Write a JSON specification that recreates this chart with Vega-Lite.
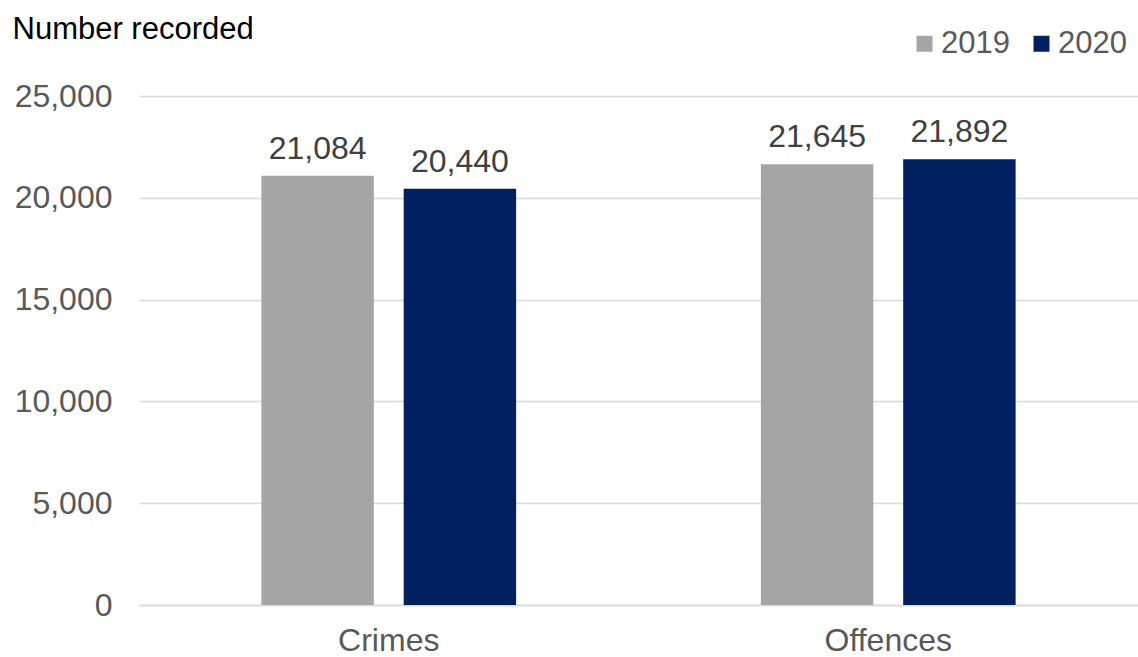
{
  "$schema": "https://vega.github.io/schema/vega-lite/v6.json",
  "autosize": "none",
  "width": 999,
  "height": 509,
  "padding": {"left": 139, "top": 96, "right": 0, "bottom": 52},
  "background": "white",
  "config": {
    "font": "Liberation Sans",
    "view": {"stroke": null}
  },
  "data": {
    "values": [
      {"category": "Crimes", "year": "2019", "value": 21084},
      {"category": "Crimes", "year": "2020", "value": 20440},
      {"category": "Offences", "year": "2019", "value": 21645},
      {"category": "Offences", "year": "2020", "value": 21892}
    ]
  },
  "encoding": {
    "x": {
      "field": "category",
      "type": "nominal",
      "scale": {"paddingInner": 0.49, "paddingOuter": 0.245},
      "axis": {
        "title": null,
        "labelAngle": 0,
        "labelFontSize": 32,
        "labelColor": "#595959",
        "labelPadding": 20,
        "ticks": false,
        "domain": true,
        "domainColor": "#d9d9d9",
        "domainWidth": 1.5
      }
    },
    "xOffset": {
      "field": "year",
      "type": "nominal",
      "scale": {"paddingInner": 0.21, "paddingOuter": 0}
    },
    "y": {
      "field": "value",
      "type": "quantitative",
      "scale": {"domain": [0, 25000]},
      "axis": {
        "title": "Number recorded",
        "titleAngle": 0,
        "titleAlign": "left",
        "titleBaseline": "alphabetic",
        "titleX": -127,
        "titleY": -58,
        "titleFontSize": 31,
        "titleFontWeight": "normal",
        "titleColor": "#000000",
        "values": [0, 5000, 10000, 15000, 20000, 25000],
        "format": ",d",
        "labelFontSize": 32,
        "labelColor": "#595959",
        "labelPadding": 27,
        "ticks": false,
        "domain": false,
        "gridColor": "#d9d9d9",
        "gridWidth": 1.5
      }
    }
  },
  "layer": [
    {
      "mark": {"type": "bar"},
      "encoding": {
        "color": {
          "field": "year",
          "type": "nominal",
          "scale": {"domain": ["2019", "2020"], "range": ["#a5a5a5", "#002060"]},
          "legend": {
            "title": null,
            "orient": "none",
            "direction": "horizontal",
            "legendX": 770,
            "legendY": -68,
            "padding": 0,
            "symbolType": "square",
            "symbolSize": 256,
            "symbolStrokeWidth": 0,
            "symbolOpacity": 1,
            "labelFontSize": 31,
            "labelColor": "#595959",
            "labelOffset": 1,
            "columnPadding": 16
          }
        }
      }
    },
    {
      "mark": {"type": "text", "baseline": "alphabetic", "dy": -17, "fontSize": 32, "color": "#404040"},
      "encoding": {
        "text": {"field": "value", "type": "quantitative", "format": ",d"}
      }
    }
  ]
}
